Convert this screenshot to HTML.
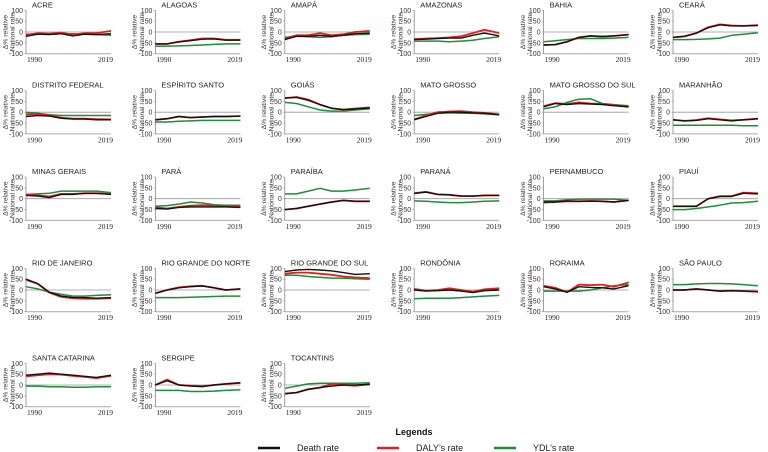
<!DOCTYPE html>
<html><head><meta charset="utf-8">
<style>
body{margin:0;background:#fff;}
svg{display:block;font-family:"Liberation Sans",sans-serif;}
</style></head>
<body>
<svg id="chart" width="768" height="452" viewBox="0 0 768 452" xmlns="http://www.w3.org/2000/svg"></svg>
<script>
const years = [1990,1994,1998,2002,2006,2010,2014,2019];
const yTicks = [100,50,0,-50,-100];
const states = ["ACRE","ALAGOAS","AMAPÁ","AMAZONAS","BAHIA","CEARÁ","DISTRITO FEDERAL","ESPÍRITO SANTO","GOIÁS","MATO GROSSO","MATO GROSSO DO SUL","MARANHÃO","MINAS GERAIS","PARÁ","PARAÍBA","PARANÁ","PERNAMBUCO","PIAUÍ","RIO DE JANEIRO","RIO GRANDE DO NORTE","RIO GRANDE DO SUL","RONDÔNIA","RORAIMA","SÃO PAULO","SANTA CATARINA","SERGIPE","TOCANTINS"];
const deathRate = [
[-20,-10,-12,-8,-18,-10,-12,-8],[-55,-55,-45,-40,-33,-32,-38,-38],[-35,-20,-20,-15,-20,-15,-8,-5],[-35,-33,-30,-28,-28,-15,-5,-18],[-60,-58,-45,-25,-18,-20,-18,-12],[-25,-20,-5,20,33,28,28,30],
[-20,-15,-18,-28,-32,-32,-35,-35],[-35,-30,-20,-25,-22,-20,-20,-18],[65,68,55,35,18,12,15,20],[-35,-20,-5,0,0,-3,-5,-12],[25,40,35,40,38,35,30,25],[-35,-40,-38,-30,-35,-40,-35,-30],
[15,12,5,20,20,25,25,20],[-45,-48,-40,-38,-38,-38,-38,-40],[-50,-45,-35,-25,-15,-8,-12,-12],[25,30,20,18,12,12,15,15],[-15,-15,-10,-12,-12,-12,-15,-8],[-35,-35,-35,0,10,10,25,22],
[50,30,-10,-28,-35,-35,-38,-35],[-15,0,10,15,18,10,0,5],[85,92,95,92,88,80,72,75],[0,-5,-3,0,-5,-12,-3,0],[15,5,-10,15,12,10,5,20],[0,0,5,0,-5,-3,-5,-8],
[45,50,55,50,45,40,35,45],[0,20,0,-5,-8,0,5,10],[-40,-35,-20,-12,-5,0,0,3]];
const dalyRate = [
[-15,-5,-8,-3,-12,-5,-5,5],[-55,-55,-45,-38,-30,-30,-36,-36],[-30,-15,-15,-5,-15,-10,0,5],[-33,-30,-28,-25,-20,-5,10,-5],[-60,-58,-45,-25,-18,-22,-18,-12],[-25,-20,-5,22,35,30,28,32],
[-10,-8,-15,-25,-30,-30,-32,-33],[-35,-30,-20,-25,-22,-20,-20,-18],[65,70,58,35,18,12,17,22],[-33,-15,0,3,5,0,-3,-10],[28,42,38,45,40,38,32,25],[-35,-40,-36,-28,-33,-38,-35,-30],
[18,15,10,22,22,25,25,22],[-40,-45,-38,-32,-30,-32,-35,-38],[-50,-45,-35,-25,-15,-8,-12,-12],[25,32,20,18,12,12,15,15],[-18,-15,-12,-12,-10,-12,-15,-8],[-35,-35,-35,0,12,12,28,25],
[48,28,-12,-32,-38,-40,-40,-38],[-15,0,12,17,20,10,0,5],[75,80,80,75,70,62,58,55],[5,-3,0,8,0,-8,3,8],[20,10,-10,25,22,25,15,35],[0,0,5,0,-5,-3,-5,-8],
[40,45,50,48,42,38,32,42],[0,25,0,-3,-5,0,5,10],[-40,-35,-20,-12,5,0,-3,3]];
const ydlRate = [
[-10,-8,-10,-8,-8,-10,-12,-15],[-65,-65,-64,-62,-60,-57,-55,-55],[-25,-20,-22,-25,-22,-15,-12,-10],[-42,-42,-42,-45,-42,-38,-30,-22],[-45,-40,-35,-30,-30,-30,-28,-25],[-35,-35,-34,-32,-28,-15,-10,-3],
[0,-5,-12,-15,-15,-15,-15,-15],[-45,-45,-42,-40,-38,-38,-38,-38],[45,40,25,10,5,5,10,15],[-15,-10,-5,-3,-5,-5,-8,-12],[15,25,45,60,62,40,35,30],[-60,-60,-60,-60,-60,-60,-62,-62],
[20,22,25,35,35,35,35,28],[-35,-32,-25,-15,-20,-28,-30,-30],[22,22,35,48,35,35,40,48],[-10,-12,-15,-18,-18,-15,-12,-10],[-10,-10,-5,-2,-2,-2,-2,-8],[-50,-50,-45,-38,-30,-20,-18,-12],
[15,5,-10,-20,-28,-28,-25,-22],[-35,-35,-35,-33,-32,-30,-28,-28],[68,68,62,58,55,55,52,50],[-40,-38,-38,-38,-35,-32,-28,-25],[-5,-5,-5,-5,0,10,20,25],[25,25,28,30,30,28,25,20],
[-5,-5,-8,-8,-10,-10,-8,-8],[-25,-25,-25,-30,-30,-28,-25,-22],[-15,-5,5,8,8,8,8,10]];

const NS="http://www.w3.org/2000/svg";
const svg=document.getElementById('chart');
const rowTops=[10.3,90.5,177,268.3,363.3];
const PW=85, PH=43.4;
function mk(tag,attrs,parent){const e=document.createElementNS(NS,tag);for(const k in attrs)e.setAttribute(k,attrs[k]);(parent||svg).appendChild(e);return e;}
states.forEach((st,i)=>{
  const col=i%6,row=Math.floor(i/6);
  const x0=26+col*129.4, y0=rowTops[row];
  const g=mk('g',{});
  
  
  const xs=y=>x0+(y-1990)/(2019-1990)*PW;
  const ys=v=>y0+(100-v)/200*PH;
  const t=mk('text',{x:x0+6,y:y0-3,'font-size':'7.5',fill:'#222'},g);t.textContent=st;
  
  
  yTicks.forEach(v=>{const tt=mk('text',{x:x0-3,y:ys(v)+2.5,'font-size':'7','text-anchor':'end',fill:'#333'},g);tt.textContent=v;
    
    
    mk('line',{x1:x0-1.5,x2:x0,y1:ys(v),y2:ys(v),stroke:'#888','stroke-width':0.6},g);});
  const yl=mk('text',{transform:`translate(${x0-18},${ys(0)}) rotate(-90)`,'font-size':'6.8','text-anchor':'middle',fill:'#333'},g);
  
  
  const t1=mk('tspan',{x:0,dy:'-0.1em'},yl);t1.textContent='Δ% relative';
  const t2=mk('tspan',{x:0,dy:'1.05em'},yl);t2.textContent='National rate';
  mk('line',{x1:x0,x2:x0,y1:y0,y2:y0+PH,stroke:'#888','stroke-width':0.8},g);
  mk('line',{x1:x0,x2:x0+PW,y1:y0+PH,y2:y0+PH,stroke:'#aaa','stroke-width':1},g);
  mk('line',{x1:x0,x2:x0+PW,y1:ys(0),y2:ys(0),stroke:'#999','stroke-width':0.8},g);
  const a=mk('text',{x:x0+1,y:y0+PH+8.5,'font-size':'7.5','text-anchor':'start',fill:'#222',style:'font-family:"Liberation Serif",serif'},g);a.textContent='1990';
  
  
  const b=mk('text',{x:x0+PW+2,y:y0+PH+8.5,'font-size':'7.5','text-anchor':'end',fill:'#222',style:'font-family:"Liberation Serif",serif'},g);b.textContent='2019';
  
  
  [[ydlRate,'#1e8c3a',1.5,'ydl-line'],[dalyRate,'#e3201c',1.8,'daly-line'],[deathRate,'#111',1.4,'death-line']].forEach(([arr,c,w,n])=>{
    const pts=arr[i].map((v,k)=>xs(years[k]).toFixed(1)+','+ys(v).toFixed(1)).join(' ');
    const p=mk('polyline',{points:pts,fill:'none',stroke:c,'stroke-width':w,'stroke-linejoin':'round'},g);
    
    
  });
});
const lg=mk('g',{});


const lt=mk('text',{x:414,y:435,'font-size':'9','font-weight':'bold','text-anchor':'middle',fill:'#111'},lg);lt.textContent='Legends';


[['Death rate','#111',258],['DALY\u2019s rate','#e3201c',377],['YDL\u2019s rate','#1e8c3a',494]].forEach(([t,c,x])=>{
  const e=mk('g',{},lg);
  
  
  mk('line',{x1:x,x2:x+22,y1:448,y2:448,stroke:c,'stroke-width':2.5},e);
  const tx=mk('text',{x:x+39,y:451,'font-size':'9',fill:'#222'},e);tx.textContent=t;
});
</script>
</body></html>
